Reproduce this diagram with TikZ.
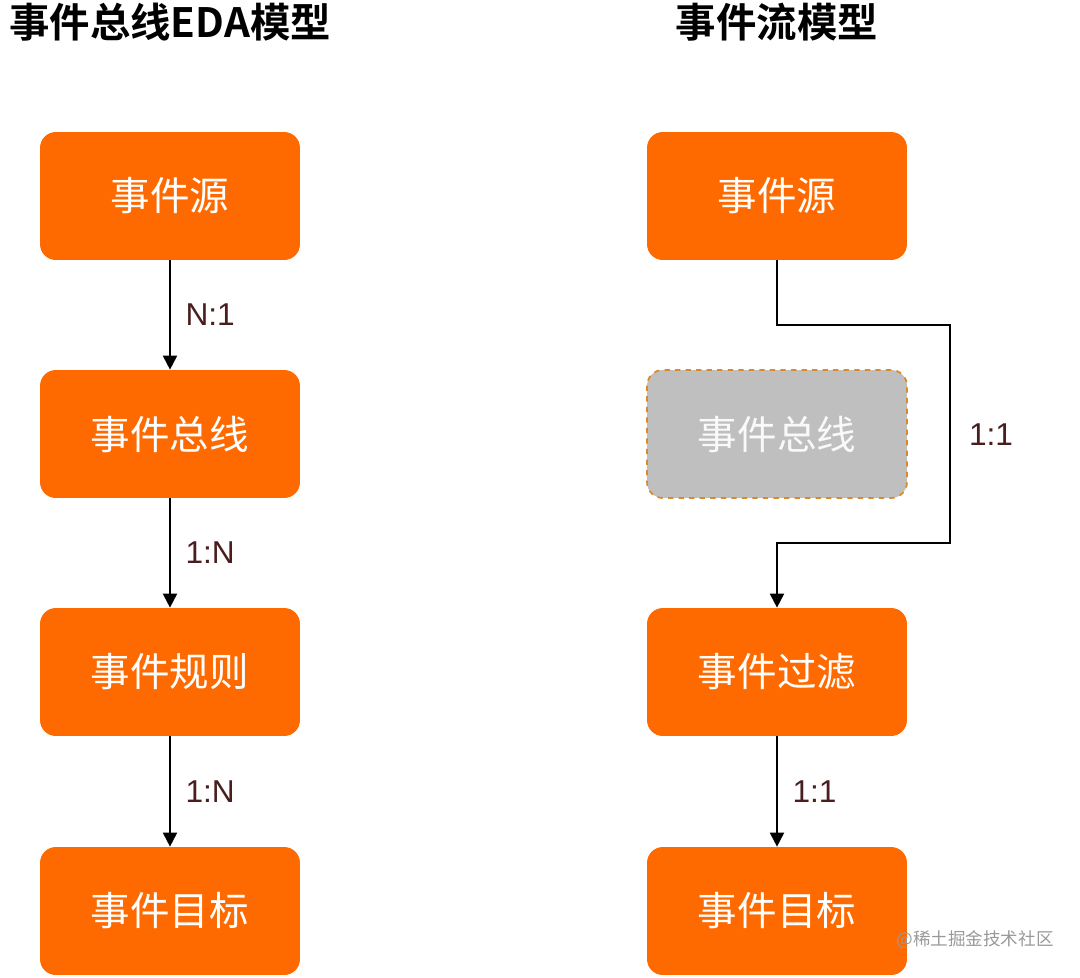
\documentclass[tikz,border=0pt]{standalone}
\usepackage{fontspec}
\usetikzlibrary{arrows.meta}
\setmainfont{Liberation Sans}
\newfontfamily\cjk{Noto Sans CJK SC}
\newfontfamily\cjkbold{Noto Sans CJK SC Bold}
\definecolor{evorange}{HTML}{FF6A00}
\definecolor{evgray}{HTML}{BFBFBF}
\definecolor{evdash}{HTML}{D98A2B}
\definecolor{ratiotxt}{HTML}{4A1E1E}

\tikzset{
  evbox/.style={rectangle, rounded corners=9pt, fill=evorange, text=white,
    minimum width=5.2cm, minimum height=2.56cm, font=\cjk\fontsize{22.5}{26}\selectfont},
  ghostbox/.style={evbox, fill=evgray, draw=evdash, dashed, line width=1pt, text=white!95!gray},
  flow/.style={line width=1.1pt, -{Triangle[width=8pt,length=8pt]}},
  ratio/.style={text=ratiotxt, font=\fontsize{18}{21}\selectfont},
  heading/.style={font=\cjkbold\fontsize{23}{27}\selectfont}
}

\begin{document}
\begin{tikzpicture}[x=0.02cm, y=-0.02cm]
                \useasboundingbox (0,0) rectangle (1080,978);

                % Titles
                \node[heading] (tleft) at (170,22) {事件总线EDA模型};
                \node[heading] (tright) at (777,22) {事件流模型};

                % EDA model
                \node[evbox] (srcA) at (170,196) {事件源};
                \node[evbox] (busA) at (170,434) {事件总线};
                \node[evbox] (ruleA) at (170,672) {事件规则};
                \node[evbox] (dstA) at (170,911) {事件目标};

                \draw[flow] (srcA) -- node[ratio, right=5pt] {N:1} (busA);
                \draw[flow] (busA) -- node[ratio, right=5pt] {1:N} (ruleA);
                \draw[flow] (ruleA) -- node[ratio, right=5pt] {1:N} (dstA);

                % Stream model
                \node[evbox] (srcB) at (777,196) {事件源};
                \node[ghostbox] (busB) at (777,434) {事件总线};
                \node[evbox] (filtB) at (777,672) {事件过滤};
                \node[evbox] (dstB) at (777,911) {事件目标};

                \draw[flow] (srcB.south) -- ++(0,65) -| (950,434) |- (777,543) -- (filtB.north);
                \node[ratio] (r11a) at (991,435) {1:1};
                \draw[flow] (filtB) -- node[ratio, right=5pt] {1:1} (dstB);

                % watermark
                \node[text=gray!80, font=\cjk\fontsize{10}{12}\selectfont] (mark) at (975,940) {@稀土掘金技术社区};
            \end{tikzpicture}
\end{document}
